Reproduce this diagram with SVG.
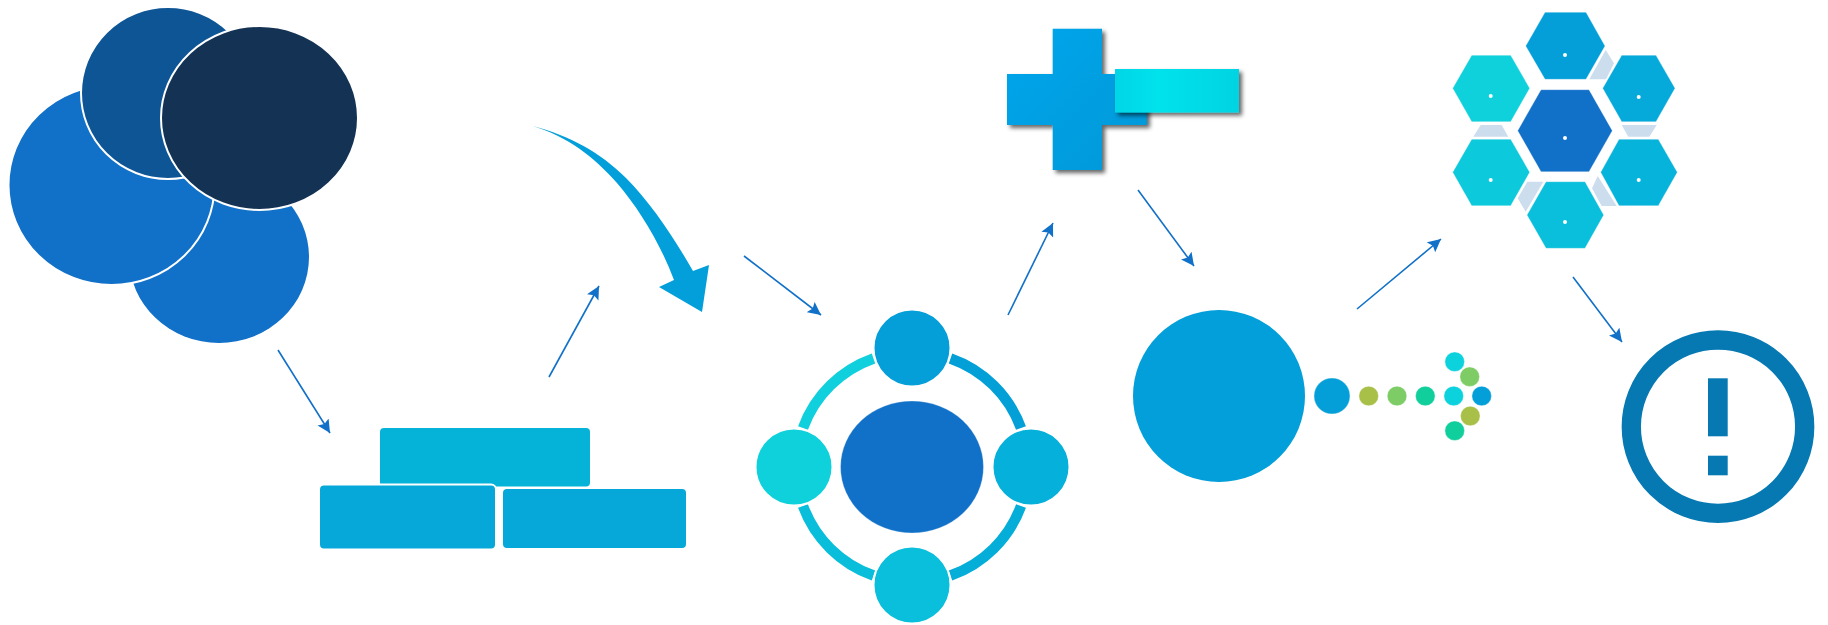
<svg xmlns="http://www.w3.org/2000/svg" width="1828" height="625" viewBox="0 0 1828 625">
<defs>
<style>
.conn{fill:none;stroke:#1170C8;stroke-width:1.6;marker-end:url(#head)}
.ws{stroke:#fff;stroke-width:2}
.arc{fill:none;stroke-width:10.5}
.link{fill:#CCDDEE}
.pip{fill:#fff}
.d{stroke:#fff;stroke-width:.6;stroke-opacity:.6}
.hx{stroke:#fff;stroke-width:.6;stroke-opacity:.5}
</style>
<marker id="head" markerUnits="userSpaceOnUse" markerWidth="14" markerHeight="14" viewBox="0 0 14 14" refX="13" refY="7" orient="auto"><path d="M0,0.5 L13,7 L0,13.5 L2.5,7 Z" fill="#1170C8"/></marker>
<filter id="sh" x="-15%" y="-15%" width="135%" height="135%"><feDropShadow dx="3" dy="3" stdDeviation="2.2" flood-color="#000" flood-opacity=".6"/></filter>
<linearGradient id="gc" x1="0" y1="0" x2="1" y2="1"><stop offset="0" stop-color="#01A6EC"/><stop offset="1" stop-color="#0598D8"/></linearGradient>
<linearGradient id="gm" x1="0" y1="0" x2="1" y2="0"><stop offset="0" stop-color="#00D6E6"/><stop offset=".35" stop-color="#00E2EC"/><stop offset="1" stop-color="#00D4E2"/></linearGradient>
</defs>
<g id="connectors">
<path class="conn" d="M278,350 L330,433"/>
<path class="conn" d="M549,377 L599,286"/>
<path class="conn" d="M744,256 L821,315"/>
<path class="conn" d="M1008,315 L1053,223"/>
<path class="conn" d="M1138,190 L1194,266"/>
<path class="conn" d="M1357,309 L1441,239"/>
<path class="conn" d="M1573,277 L1622,342"/>
</g>
<g id="circles-cluster">
<ellipse cx="219" cy="257" rx="90" ry="86" fill="#1170C8"/>
<ellipse cx="111.500" cy="185" rx="103" ry="100" fill="#1170C8" class="ws"/>
<ellipse cx="168" cy="93" rx="87" ry="86" fill="#0E5596" class="ws"/>
<ellipse cx="259.500" cy="118" rx="98.500" ry="92" fill="#133254" class="ws"/>
</g>
<g id="blocks">
<rect x="380" y="428" width="210" height="58.500" rx="4" fill="#06B3D8"/>
<rect x="319" y="484.500" width="177" height="65" rx="5" fill="#05A8D9" class="ws"/>
<rect x="503" y="489" width="183" height="59" rx="4" fill="#05A8D9"/>
</g>
<g id="curved-arrow">
<path d="M533,126 C570,136 600,152 626,178 C650,202 673,236 693,271 L709,265 L702,312 L659,287 L674,280 C660,243 640,210 617,183 C593,156 568,137 533,126 Z" fill="#029FDA"/>
</g>
<g id="ring">
<path class="arc" stroke="#0FD0DC" d="M803,428 A116,116 0 0 1 873.500,358.500"/>
<path class="arc" stroke="#03A0D8" d="M950.500,358.500 A116,116 0 0 1 1021,428"/>
<path class="arc" stroke="#05ADD9" d="M1021,506 A116,116 0 0 1 950.500,575.500"/>
<path class="arc" stroke="#09BEDA" d="M873.500,575.500 A116,116 0 0 1 803,506"/>
<ellipse cx="912" cy="467" rx="71.500" ry="66" fill="#1170C8" class="hx"/>
<circle cx="912" cy="348" r="38.500" fill="#049FD9" class="ws"/>
<circle cx="794" cy="467" r="38.500" fill="#0FD1DB" class="ws"/>
<circle cx="1031" cy="467" r="38.500" fill="#05B0DA" class="ws"/>
<circle cx="912" cy="585" r="38.500" fill="#09BFDB" class="ws"/>
</g>
<g id="plus-minus">
<path d="M1052.700,28.700 H1102 V74 H1147 V125 H1102 V170 H1052.700 V125 H1007 V74 H1052.700 Z" fill="url(#gc)" filter="url(#sh)"/>
<rect x="1115" y="69" width="124" height="43.500" fill="url(#gm)" filter="url(#sh)"/>
</g>
<g id="dots-arrow">
<circle cx="1219" cy="396" r="86" fill="#029FDA"/>
<circle cx="1332" cy="396" r="18" fill="#049FD9" class="d"/>
<circle cx="1368.700" cy="396" r="9.800" fill="#A8C047" class="d"/>
<circle cx="1397" cy="396" r="9.800" fill="#7DCC66" class="d"/>
<circle cx="1425.300" cy="396" r="9.800" fill="#10CF9C" class="d"/>
<circle cx="1453.700" cy="396" r="9.800" fill="#0CD2DE" class="d"/>
<circle cx="1481.700" cy="396" r="9.800" fill="#049FD9" class="d"/>
<circle cx="1454.700" cy="361.700" r="9.800" fill="#0CD2DE" class="d"/>
<circle cx="1469.700" cy="376.700" r="9.800" fill="#7DCC66" class="d"/>
<circle cx="1470.300" cy="416" r="9.800" fill="#A8C047" class="d"/>
<circle cx="1454.700" cy="430.700" r="9.800" fill="#10CF9C" class="d"/>
</g>
<g id="hexagons">
<polygon class="link" points="1605.700,50 1614,63.300 1606,79.300 1589.300,79.300"/>
<polygon class="link" points="1621.700,125 1656.700,125 1649.300,136.700 1628.300,136.700"/>
<polygon class="link" points="1597.700,176 1616.700,206 1601.700,206 1592,188.300"/>
<polygon class="link" points="1527.300,181.700 1543.300,181.700 1525.700,211.700 1517.700,198.300"/>
<polygon class="link" points="1480.700,125 1501.700,125 1508.300,136.700 1473.300,136.700"/>
<polygon class="hx" fill="#049FD9" points="1545,12.300 1586,12.300 1605,46 1586,79.300 1545,79.300 1525.700,46"/>
<polygon class="hx" fill="#0FD1DB" points="1471.700,55.300 1510.700,55.300 1529.700,88.300 1510.700,121.700 1471.700,121.700 1452.700,88.300"/>
<polygon class="hx" fill="#0CC9DB" points="1471.700,139.300 1510.700,139.300 1529.700,172.300 1510.700,205.700 1471.700,205.700 1452.700,172.300"/>
<polygon class="hx" fill="#1170C8" points="1541,89.700 1589,89.700 1612.300,130.700 1589,171.700 1541,171.700 1517.700,130.700"/>
<polygon class="hx" fill="#05A9DA" points="1621.700,55.300 1656,55.300 1675,88.300 1656,121.700 1621.700,121.700 1602.700,88.300"/>
<polygon class="hx" fill="#06B3DA" points="1619,139.300 1658.300,139.300 1677.300,172.300 1658.300,205.700 1619,205.700 1600.700,172.300"/>
<polygon class="hx" fill="#09BFDB" points="1546,181.700 1585,181.700 1603.700,215 1585,248.300 1546,248.300 1527,215"/>
<circle class="pip" cx="1565" cy="55" r="2"/>
<circle class="pip" cx="1490.700" cy="96" r="2"/>
<circle class="pip" cx="1490.700" cy="180" r="2"/>
<circle class="pip" cx="1565" cy="138" r="2"/>
<circle class="pip" cx="1638.700" cy="97" r="2"/>
<circle class="pip" cx="1638.700" cy="180" r="2"/>
<circle class="pip" cx="1565" cy="222" r="2"/>
</g>
<g id="alert">
<circle cx="1718" cy="426.700" r="86.700" fill="none" stroke="#0679B3" stroke-width="19.300"/>
<rect x="1708" y="378.300" width="19.700" height="58" fill="#0679B3"/>
<rect x="1708" y="455.700" width="19.700" height="19.600" fill="#0679B3"/>
</g>
</svg>
